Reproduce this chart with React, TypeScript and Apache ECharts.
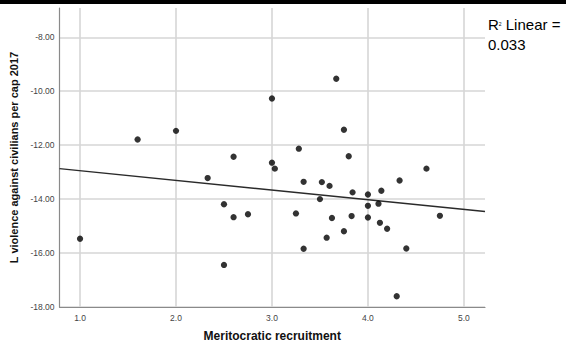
import React, { useEffect, useRef } from "react";
import * as echarts from "echarts";

// Meritocratic recruitment score per country
const recruitment: number[] = [
  1.0, 1.6, 2.0, 2.33, 2.5, 2.5, 2.6, 2.6, 2.75, 3.0,
  3.0, 3.03, 3.25, 3.28, 3.33, 3.33, 3.5, 3.52, 3.57, 3.6,
  3.625, 3.67, 3.75, 3.75, 3.8, 3.84, 3.83, 4.0, 4.0, 4.0,
  4.11, 4.125, 4.14, 4.2, 4.3, 4.33, 4.4, 4.61, 4.75,
];

// Log violence against civilians per capita, 2017
const violence: number[] = [
  -15.47, -11.79, -11.47, -13.22, -14.19, -16.44, -12.43, -14.67, -14.56, -10.27,
  -12.65, -12.87, -14.53, -12.13, -13.36, -15.84, -14.0, -13.37, -15.43, -13.51,
  -14.7, -9.54, -11.43, -15.19, -12.41, -13.75, -14.63, -13.83, -14.25, -14.68,
  -14.17, -14.88, -13.69, -15.1, -17.6, -13.31, -15.83, -12.87, -14.62,
];

// Linear fit line endpoints (x, y) across the plotted range
const fitX: number[] = [0.786, 5.22];
const fitY: number[] = [-12.87, -14.46];

const xTicks: number[] = [1, 2, 3, 4, 5];
const yTicks: number[] = [-18, -16, -14, -12, -10, -8];

const rSquared = "0.033";

const FONT = "'Liberation Sans', Arial, sans-serif";

export default function App() {
  const ref = useRef<HTMLDivElement>(null);

  useEffect(() => {
    if (!ref.current) return;
    const chart = echarts.init(ref.current, null, { renderer: "svg" });

    const points = recruitment.map((x, i) => [x, violence[i]]);
    const fit = fitX.map((x, i) => [x, fitY[i]]);

    chart.setOption({
      animation: false,
      backgroundColor: "#ffffff",
      textStyle: { fontFamily: FONT },
      grid: { left: 59.5, right: 81, top: 8, bottom: 38.7, containLabel: false },
      xAxis: {
        type: "value",
        min: 0.786,
        max: 5.22,
        name: "Meritocratic recruitment",
        nameLocation: "middle",
        nameGap: 23,
        nameTextStyle: { fontFamily: FONT, fontSize: 12, fontWeight: "bold", color: "#111" },
        axisLine: { show: true, lineStyle: { color: "#8a8a8a", width: 1.2 } },
        axisTick: { show: false, customValues: xTicks },
        axisLabel: {
          customValues: xTicks,
          formatter: (v: number) => v.toFixed(1),
          fontFamily: FONT,
          fontSize: 8.5,
          color: "#444",
          margin: 6,
        },
        splitLine: { show: true, lineStyle: { color: "#d6d6d6", width: 1.6 } },
      },
      yAxis: {
        type: "value",
        min: -18,
        max: -6.915,
        name: "L violence against civilians per cap 2017",
        nameLocation: "middle",
        nameGap: 39,
        nameTextStyle: { fontFamily: FONT, fontSize: 11, fontWeight: "bold", color: "#111" },
        axisLine: { show: true, lineStyle: { color: "#8a8a8a", width: 1.2 } },
        axisTick: { show: false, customValues: yTicks },
        axisLabel: {
          customValues: yTicks,
          formatter: (v: number) => v.toFixed(2),
          fontFamily: FONT,
          fontSize: 8.5,
          color: "#444",
          margin: 5,
        },
        splitLine: { show: true, lineStyle: { color: "#d6d6d6", width: 1.6 } },
      },
      series: [
        {
          type: "line",
          data: fit,
          showSymbol: false,
          symbol: "none",
          lineStyle: { color: "#2a2a2a", width: 1.4 },
          z: 3,
        },
        {
          type: "scatter",
          data: points,
          symbol: "circle",
          symbolSize: 6.3,
          itemStyle: { color: "#000000" },
          z: 4,
        },
      ],
      graphic: {
        elements: [
          {
            // dark strip along the top edge
            type: "line",
            z: 100,
            silent: true,
            shape: { x1: 0, y1: 2, x2: 566, y2: 2 },
            style: { stroke: "#000000", lineWidth: 4 },
          },
          {
            type: "text",
            left: 488,
            top: 17,
            style: {
              text: "{a|R}{s|2}{a| Linear =}\n{a|" + rSquared + "}",
              rich: {
                a: { fontFamily: FONT, fontSize: 15, color: "#1a1a1a", lineHeight: 19.5 },
                s: { fontFamily: FONT, fontSize: 5, color: "#666", lineHeight: 19.5, padding: [0, 0, 2, 0] },
              },
            },
          },
        ],
      },
    });

    return () => chart.dispose();
  }, []);

  return (
    <div style={{ position: "fixed", left: 0, top: 0, width: 566, height: 347, background: "#fff" }}>
      <div ref={ref} style={{ width: 566, height: 347 }} />
    </div>
  );
}
